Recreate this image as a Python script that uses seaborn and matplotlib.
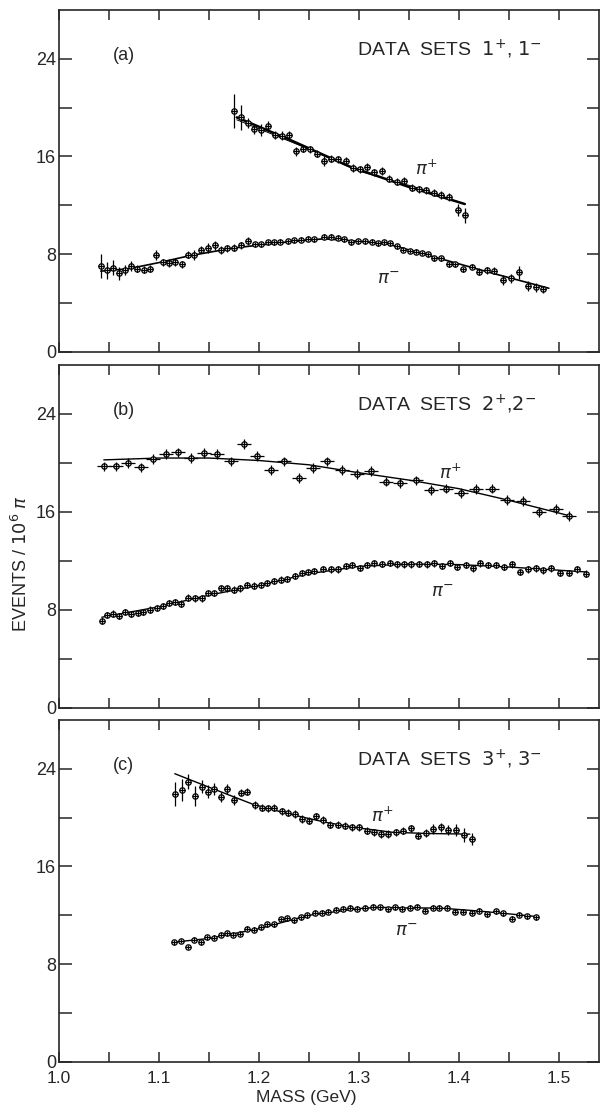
import numpy as np
import pandas as pd
from matplotlib import pyplot as plt
from matplotlib import font_manager
import seaborn as sns

# ---- panel (a): data sets 1+, 1- ----
a_pip_mass = [1.175, 1.182, 1.189, 1.195, 1.202, 1.209, 1.216, 1.223, 1.230, 1.237, 1.244,
              1.251, 1.258, 1.265, 1.272, 1.279, 1.287, 1.294, 1.301, 1.308, 1.315, 1.323,
              1.330, 1.338, 1.345, 1.353, 1.360, 1.367, 1.375, 1.382, 1.390, 1.399, 1.406]
a_pip = [19.73, 19.19, 18.73, 18.25, 18.17, 18.47, 17.76, 17.71, 17.76, 16.41, 16.63,
         16.57, 16.22, 15.63, 15.81, 15.76, 15.65, 15.06, 14.93, 15.14, 14.71, 14.81,
         14.19, 13.92, 13.98, 13.44, 13.30, 13.22, 13.03, 12.84, 12.68, 11.63, 11.17]
a_pip_err = [1.4, 1.0, 0.4, 0.4, 0.5, 0.4, 0.3, 0.4, 0.3, 0.4, 0.3,
             0.3, 0.3, 0.4, 0.3, 0.3, 0.3, 0.3, 0.3, 0.3, 0.3, 0.3,
             0.3, 0.3, 0.3, 0.3, 0.3, 0.3, 0.3, 0.3, 0.3, 0.5, 0.6]

a_pim_mass = [1.042, 1.048, 1.054, 1.060, 1.066, 1.072, 1.078, 1.085, 1.091, 1.097, 1.104,
              1.110, 1.116, 1.123, 1.129, 1.135, 1.142, 1.149, 1.156, 1.162, 1.168, 1.175,
              1.182, 1.189, 1.196, 1.202, 1.209, 1.215, 1.221, 1.229, 1.235, 1.242, 1.249,
              1.255, 1.265, 1.272, 1.279, 1.285, 1.292, 1.299, 1.306, 1.313, 1.319, 1.325,
              1.331, 1.338, 1.344, 1.351, 1.357, 1.363, 1.369, 1.375, 1.382, 1.390, 1.396,
              1.404, 1.413, 1.420, 1.428, 1.435, 1.444, 1.452, 1.460, 1.469, 1.477, 1.484]
a_pim = [7.03, 6.68, 6.89, 6.41, 6.71, 7.03, 6.81, 6.71, 6.81, 7.95, 7.33,
         7.27, 7.33, 7.17, 7.95, 7.95, 8.35, 8.52, 8.71, 8.33, 8.47, 8.52,
         8.71, 9.06, 8.79, 8.79, 8.98, 8.98, 9.00, 9.06, 9.12, 9.17, 9.25,
         9.20, 9.41, 9.41, 9.33, 9.20, 8.98, 9.06, 9.06, 9.00, 8.87, 8.98,
         8.87, 8.65, 8.35, 8.25, 8.19, 8.09, 7.98, 7.66, 7.66, 7.17, 7.17,
         6.76, 6.95, 6.55, 6.68, 6.63, 5.87, 6.00, 6.49, 5.41, 5.27, 5.10]
a_pim_err = [1.0, 0.7, 0.6, 0.5, 0.4, 0.4, 0.3, 0.3, 0.3, 0.4, 0.3,
             0.3, 0.3, 0.3, 0.3, 0.4, 0.3, 0.4, 0.4, 0.3, 0.3, 0.3,
             0.3, 0.3, 0.2, 0.2, 0.2, 0.2, 0.2, 0.2, 0.2, 0.2, 0.2,
             0.2, 0.2, 0.2, 0.2, 0.2, 0.2, 0.2, 0.2, 0.2, 0.2, 0.2,
             0.2, 0.2, 0.2, 0.2, 0.2, 0.2, 0.2, 0.2, 0.2, 0.2, 0.2,
             0.2, 0.2, 0.3, 0.3, 0.3, 0.4, 0.4, 0.5, 0.4, 0.4, 0.3]

a_fit_pip_mass = [1.178, 1.23, 1.29, 1.35, 1.406]
a_fit_pip = [19.2, 17.4, 15.2, 13.5, 12.1]
a_fit2_pip_mass = [1.178, 1.25, 1.30, 1.33, 1.36, 1.406]
a_fit2_pip = [19.0, 16.6, 14.8, 14.1, 13.4, 12.1]
a_fit_pim_mass = [1.042, 1.07, 1.10, 1.13, 1.175, 1.23, 1.265, 1.30, 1.33, 1.365, 1.40, 1.435, 1.49]
a_fit_pim = [6.6, 6.8, 7.3, 7.85, 8.5, 9.0, 9.25, 9.05, 8.8, 8.0, 7.2, 6.4, 5.2]

# ---- panel (b): data sets 2+, 2- ----
b_pip_mass = [1.045, 1.057, 1.069, 1.082, 1.094, 1.107, 1.119, 1.132, 1.145, 1.158, 1.172,
              1.185, 1.198, 1.212, 1.225, 1.240, 1.254, 1.268, 1.283, 1.298, 1.312, 1.327,
              1.341, 1.357, 1.372, 1.387, 1.402, 1.417, 1.433, 1.448, 1.464, 1.480, 1.497, 1.510]
b_pip = [19.71, 19.71, 19.98, 19.63, 20.31, 20.72, 20.86, 20.39, 20.80, 20.72, 20.12,
         21.54, 20.58, 19.44, 20.12, 18.78, 19.57, 20.12, 19.44, 19.08, 19.33, 18.48,
         18.35, 18.57, 17.77, 17.91, 17.55, 17.85, 17.91, 16.98, 16.90, 16.00, 16.27, 15.67]

b_pim_mass = [1.043, 1.048, 1.054, 1.060, 1.066, 1.072, 1.079, 1.084, 1.091, 1.098, 1.104,
              1.110, 1.116, 1.122, 1.129, 1.136, 1.143, 1.149, 1.155, 1.162, 1.168, 1.175,
              1.181, 1.188, 1.195, 1.202, 1.208, 1.215, 1.222, 1.228, 1.236, 1.243, 1.249,
              1.255, 1.264, 1.272, 1.279, 1.287, 1.293, 1.301, 1.308, 1.315, 1.323, 1.331,
              1.338, 1.345, 1.352, 1.360, 1.368, 1.375, 1.383, 1.391, 1.398, 1.407, 1.414,
              1.421, 1.429, 1.437, 1.445, 1.453, 1.461, 1.469, 1.477, 1.484, 1.492, 1.501,
              1.510, 1.518, 1.527]
b_pim = [7.07, 7.56, 7.70, 7.48, 7.84, 7.67, 7.75, 7.84, 8.03, 8.17, 8.30,
         8.57, 8.63, 8.52, 9.01, 8.93, 8.93, 9.39, 9.39, 9.80, 9.75, 9.66,
         9.75, 10.02, 9.99, 10.02, 10.21, 10.34, 10.48, 10.54, 10.75, 11.03, 11.08,
         11.16, 11.36, 11.30, 11.30, 11.57, 11.63, 11.44, 11.65, 11.79, 11.77, 11.85,
         11.71, 11.71, 11.71, 11.77, 11.71, 11.79, 11.57, 11.85, 11.52, 11.63, 11.38,
         11.79, 11.63, 11.63, 11.52, 11.71, 11.11, 11.30, 11.38, 11.22, 11.38, 11.03,
         11.03, 11.30, 10.97]

b_fit_pip_mass = [1.045, 1.10, 1.15, 1.20, 1.25, 1.30, 1.35, 1.40, 1.45, 1.51]
b_fit_pip = [20.25, 20.4, 20.4, 20.2, 19.85, 19.2, 18.6, 17.9, 16.95, 15.7]
b_fit_pim_mass = [1.043, 1.10, 1.15, 1.20, 1.25, 1.30, 1.35, 1.40, 1.45, 1.527]
b_fit_pim = [7.4, 8.25, 9.2, 10.0, 10.95, 11.55, 11.75, 11.7, 11.5, 11.1]

# ---- panel (c): data sets 3+, 3- ----
c_pip_mass = [1.116, 1.123, 1.129, 1.136, 1.143, 1.149, 1.155, 1.162, 1.168, 1.175, 1.182,
              1.188, 1.196, 1.203, 1.209, 1.215, 1.223, 1.229, 1.236, 1.243, 1.250, 1.257,
              1.264, 1.271, 1.279, 1.286, 1.293, 1.300, 1.308, 1.315, 1.322, 1.329, 1.337,
              1.344, 1.352, 1.359, 1.367, 1.374, 1.382, 1.389, 1.397, 1.405, 1.413]
c_pip = [21.93, 22.25, 22.96, 21.79, 22.55, 22.14, 22.34, 21.71, 22.34, 21.44, 22.06,
         22.14, 21.03, 20.83, 20.75, 20.83, 20.51, 20.42, 20.29, 19.89, 19.75, 20.10,
         19.80, 19.42, 19.42, 19.34, 19.20, 19.20, 18.93, 18.79, 18.66, 18.66, 18.79,
         18.93, 19.12, 18.52, 18.74, 19.07, 19.20, 18.99, 18.99, 18.58, 18.25]
c_pip_err = [1.0, 0.9, 0.6, 0.8, 0.5, 0.5, 0.5, 0.4, 0.4, 0.4, 0.3,
             0.3, 0.3, 0.3, 0.3, 0.3, 0.3, 0.3, 0.3, 0.3, 0.3, 0.3,
             0.3, 0.3, 0.3, 0.3, 0.3, 0.3, 0.3, 0.3, 0.3, 0.3, 0.3,
             0.3, 0.3, 0.3, 0.3, 0.4, 0.4, 0.4, 0.5, 0.6, 0.5]

c_pim_mass = [1.115, 1.122, 1.129, 1.135, 1.142, 1.148, 1.155, 1.162, 1.168, 1.174, 1.181,
              1.188, 1.195, 1.202, 1.208, 1.215, 1.222, 1.228, 1.235, 1.242, 1.248, 1.256,
              1.263, 1.269, 1.277, 1.284, 1.291, 1.298, 1.306, 1.314, 1.321, 1.329, 1.336,
              1.343, 1.351, 1.358, 1.366, 1.374, 1.380, 1.388, 1.396, 1.404, 1.413, 1.420,
              1.428, 1.437, 1.444, 1.453, 1.460, 1.468, 1.477]
c_pim = [9.80, 9.89, 9.40, 10.00, 9.80, 10.21, 10.16, 10.41, 10.54, 10.41, 10.49,
         10.90, 10.82, 11.03, 11.25, 11.25, 11.66, 11.76, 11.58, 11.85, 11.99, 12.21,
         12.21, 12.31, 12.45, 12.53, 12.61, 12.53, 12.61, 12.72, 12.66, 12.48, 12.66,
         12.53, 12.61, 12.72, 12.39, 12.61, 12.61, 12.61, 12.31, 12.31, 12.21, 12.39,
         12.07, 12.34, 12.17, 11.72, 12.04, 11.93, 11.85]

c_fit_pip_mass = [1.116, 1.15, 1.194, 1.23, 1.268, 1.30, 1.334, 1.37, 1.411]
c_fit_pip = [23.6, 22.5, 21.1, 20.3, 19.6, 19.15, 18.8, 18.7, 18.65]
c_fit_pim_mass = [1.115, 1.15, 1.20, 1.25, 1.30, 1.32, 1.35, 1.38, 1.42, 1.478]
c_fit_pim = [9.8, 10.1, 10.9, 12.0, 12.55, 12.65, 12.6, 12.6, 12.35, 11.9]

panel_tags = ['(a)', '(b)', '(c)']
panel_titles = [r'DATA  SETS  $1^{+}$, $1^{-}$', r'DATA  SETS  $2^{+}$,$2^{-}$',
                r'DATA  SETS  $3^{+}$, $3^{-}$']
x_ticks = [1.0, 1.1, 1.2, 1.3, 1.4, 1.5]
x_ticklabels = ['1.0', '1.1', '1.2', '1.3', '1.4', '1.5']
y_ticks = [0, 8, 16, 24]

sns.set_theme(style='ticks')
avail = {f.name for f in font_manager.fontManager.ttflist}
fam = [f for f in ['Liberation Sans Narrow', 'Liberation Sans', 'DejaVu Sans'] if f in avail]
plt.rcParams['font.family'] = fam + ['DejaVu Sans']
plt.rcParams['mathtext.fontset'] = 'dejavusans'
plt.rcParams['axes.linewidth'] = 1.2

fig = plt.figure(figsize=(6, 11.06), dpi=100)
boxes = [[0.098, 0.682, 0.9, 0.309],
         [0.098, 0.360, 0.9, 0.310],
         [0.098, 0.040, 0.9, 0.309]]


def draw_points(ax, mass, val, yerr, xerr):
    df = pd.DataFrame({'mass': mass, 'val': val})
    sns.scatterplot(data=df, x='mass', y='val', ax=ax, marker='o', s=15,
                    facecolor='white', edgecolor='black', linewidth=0.9, zorder=3)
    ax.errorbar(mass, val, yerr=yerr, xerr=xerr, fmt='none', ecolor='black',
                elinewidth=0.9, capsize=0, zorder=4)


def draw_fit(ax, mass, val, lw=1.0):
    df = pd.DataFrame({'mass': mass, 'val': val})
    sns.lineplot(data=df, x='mass', y='val', ax=ax, color='black', lw=lw, sort=False,
                 estimator=None, zorder=2)


panels = [
    dict(pts=[(a_pip_mass, a_pip, a_pip_err, 0.003), (a_pim_mass, a_pim, a_pim_err, 0.003)],
         fits=[(a_fit_pip_mass, a_fit_pip, 1.8), (a_fit2_pip_mass, a_fit2_pip, 0.7),
               (a_fit_pim_mass, a_fit_pim, 1.2)],
         plus=(1.356, 15.0), minus=(1.318, 5.9)),
    dict(pts=[(b_pip_mass, b_pip, 0.4, 0.007), (b_pim_mass, b_pim, 0.25, 0.003)],
         fits=[(b_fit_pip_mass, b_fit_pip, 1.0), (b_fit_pim_mass, b_fit_pim, 1.0)],
         plus=(1.38, 19.2), minus=(1.372, 9.4)),
    dict(pts=[(c_pip_mass, c_pip, c_pip_err, 0.003), (c_pim_mass, c_pim, 0.2, 0.003)],
         fits=[(c_fit_pip_mass, c_fit_pip, 1.0), (c_fit_pim_mass, c_fit_pim, 1.0)],
         plus=(1.312, 20.1), minus=(1.336, 10.7)),
]

for i, p in enumerate(panels):
    ax = fig.add_axes(boxes[i])
    for mass, val, lw in p['fits']:
        draw_fit(ax, mass, val, lw)
    for mass, val, yerr, xerr in p['pts']:
        draw_points(ax, mass, val, yerr, xerr)

    ax.set_xlim(1.0, 1.54)
    ax.set_ylim(0, 28)
    ax.set_xticks(np.arange(1.0, 1.54, 0.05), minor=False)
    ax.set_yticks(np.arange(0, 28, 4))
    ax.set_yticklabels([str(v) if v in y_ticks else '' for v in range(0, 28, 4)])
    if i == 2:
        labels = []
        for t in np.arange(1.0, 1.54, 0.05):
            r = round(t, 2)
            labels.append(x_ticklabels[x_ticks.index(r)] if r in x_ticks else '')
        ax.set_xticklabels(labels)
    else:
        ax.set_xticklabels([])
    ax.tick_params(axis='x', direction='in', length=7, width=1.1, top=True, bottom=True,
                   labelsize=12.5, pad=6.5)
    ax.tick_params(axis='y', direction='in', length=9, width=1.1, left=True, right=True,
                   labelsize=13, pad=2)
    ax.set_xlabel('')
    ax.set_ylabel('')
    for s in ax.spines.values():
        s.set_visible(True)
        s.set_linewidth(1.2)

    ax.text(1.054, 24.3, panel_tags[i], fontsize=13, va='center')
    ax.text(1.298, 24.8, panel_titles[i], fontsize=14, va='center')
    ax.text(p['plus'][0], p['plus'][1], r'$\pi^{+}$', fontsize=13, va='center')
    ax.text(p['minus'][0], p['minus'][1], r'$\pi^{-}$', fontsize=13, va='center')

fig.text(0.035, 0.49, r'EVENTS / $10^{6}$ $\pi$', rotation=90, fontsize=13,
         ha='center', va='center')
fig.text(0.51, 0.0005, 'MASS (GeV)', fontsize=12.5, ha='center', va='bottom')

fig.savefig('out.png', dpi=100)
